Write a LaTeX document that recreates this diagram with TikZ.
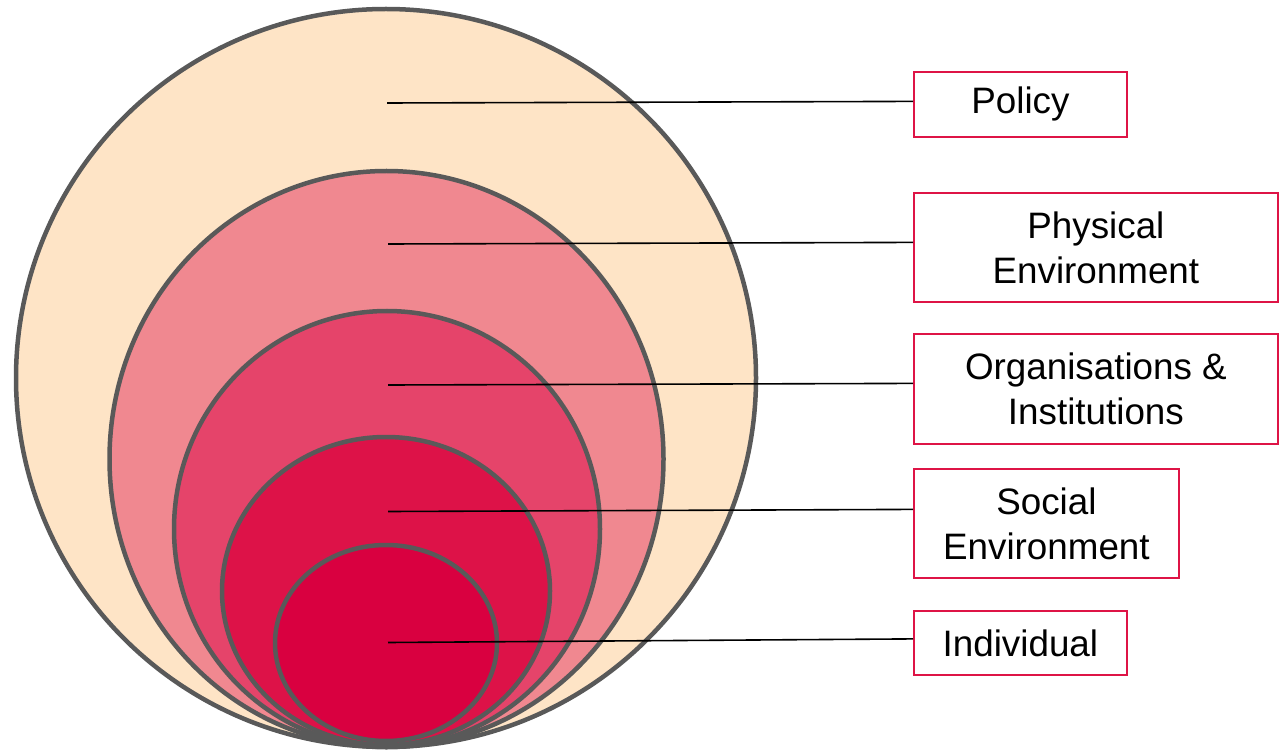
\documentclass[tikz,border=0pt]{standalone}
\usepackage{fontspec}
\setmainfont{Liberation Sans}
\definecolor{peach}{RGB}{254,228,198}
\definecolor{rosa}{RGB}{240,136,144}
\definecolor{rasp}{RGB}{229,68,106}
\definecolor{crim}{RGB}{221,18,72}
\definecolor{deepred}{RGB}{217,0,64}
\definecolor{ringgray}{RGB}{89,89,89}
\definecolor{boxred}{RGB}{222,20,70}
\tikzset{lbl/.style={draw=boxred,line width=1.8pt,align=center,anchor=north west,
  inner sep=0pt,font=\fontsize{36.8}{45}\selectfont}}
\def\RING#1#2#3#4{\filldraw [fill=#4,draw=ringgray,line width=4.5pt] (#1) ellipse [x radius=#2pt,y radius=#3pt];}

\begin{document}
\begin{tikzpicture}[x=1pt,y=-1pt]
\useasboundingbox (0,0) rectangle (1282,751);
\RING{386,378}{370}{369}{peach}
\RING{386.5,459}{277}{288}{rosa}
\RING{387,529}{213}{218}{rasp}
\RING{386,591}{164}{154}{crim}
\RING{386,643}{111}{98}{deepred}
\node[lbl,minimum width=213pt,minimum height=65pt] (pol) at (913,71) {Policy};
\node[lbl,minimum width=364pt,minimum height=109pt] (phys) at (913,192) {Physical\\Environment};
\node[lbl,minimum width=364pt,minimum height=110pt] (org) at (913,333) {Organisations \&\\Institutions};
\node[lbl,minimum width=265pt,minimum height=109pt] (soc) at (913,468) {Social\\Environment};
\node[lbl,minimum width=213pt,minimum height=64pt] (ind) at (913,610) {Individual};
\coordinate (c1) at (387,103);
\coordinate (c2) at (388,244);
\coordinate (c3) at (388,385);
\coordinate (c4) at (388,511.5);
\coordinate (c5) at (388,642.5);
\draw[line width=1.6pt] (c1) -- ([yshift=3pt]pol.west);
\draw[line width=1.6pt] (c2) -- ([yshift=5pt]phys.west);
\draw[line width=1.6pt] (c3) -- ([yshift=5.5pt]org.west);
\draw[line width=1.6pt] (c4) -- ([yshift=14pt]soc.west);
\draw[line width=1.6pt] (c5) -- ([yshift=4pt]ind.west);
\end{tikzpicture}
\end{document}
